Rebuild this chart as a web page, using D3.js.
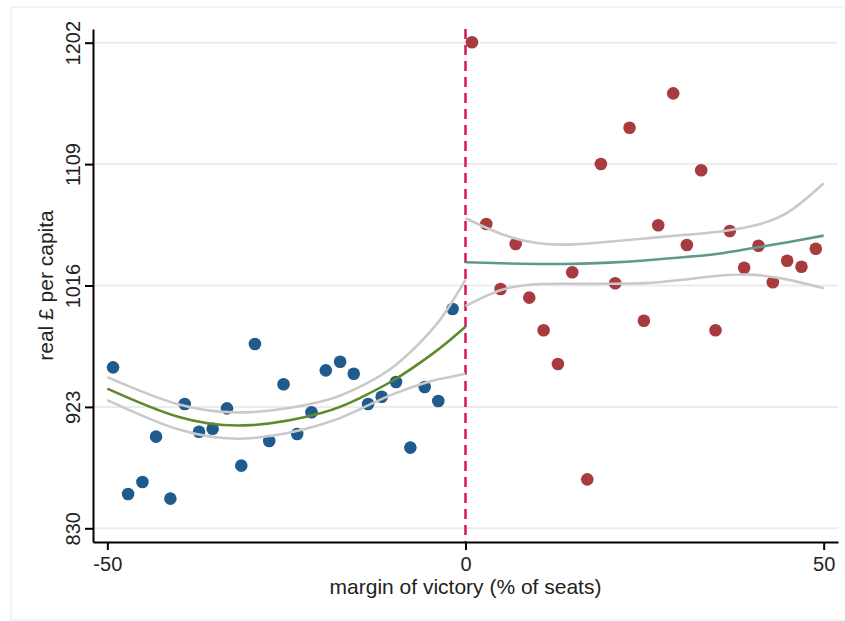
<!DOCTYPE html>
<html>
<head>
<meta charset="utf-8">
<script src="https://cdn.jsdelivr.net/npm/d3@7"></script>
<style>
  body { margin: 0; background: #fff; }
  svg { display: block; font-family: "Liberation Sans", Arial, Helvetica, sans-serif; }
  .grid line { stroke: #ececec; stroke-width: 2; }
  .axis path, .axis line { stroke: #000; stroke-width: 2; }
  .axis text { font-size: 20px; fill: #222; }
  .title { font-size: 21px; fill: #222; }
</style>
</head>
<body>
<script>
// binned means, left of the cutoff (lost) and right (won)
const blueX = [-49.2, -47.1, -45.1, -43.2, -41.2, -39.2, -37.2, -35.3, -33.3, -31.3, -29.4, -27.4, -25.4,
               -23.5, -21.5, -19.5, -17.5, -15.6, -13.6, -11.7, -9.7, -7.7, -5.7, -3.8, -1.8];
const blueY = [953.3, 856.3, 865.5, 900.2, 852.7, 925.2, 904, 906.3, 921.9, 878, 971.2, 896.9, 940.3,
               902.2, 918.9, 951, 957.6, 948.4, 925.2, 930.8, 942.1, 891.8, 938.2, 927.5, 998];
const redX = [0.9, 2.9, 4.9, 7.0, 8.9, 10.9, 12.9, 14.9, 17.0, 18.9, 20.9, 22.9, 24.9,
              26.9, 29.0, 30.9, 32.9, 34.9, 36.9, 38.9, 40.9, 42.9, 44.9, 46.9, 48.9];
const redY = [1202.3, 1063.1, 1013.3, 1047.8, 1006.7, 981.7, 955.9, 1026.1, 867.5, 1109.1, 1017.7, 1136.9, 989,
              1062.1, 1163.2, 1047, 1104.3, 981.7, 1057.8, 1029.6, 1046.5, 1018.5, 1035, 1030.4, 1044.1];

// fitted curves and confidence bands
const leftFitX  = [-50, -40, -30, -20, -15, -10, -5, -2.5, 0];
const leftFit   = [937, 915.2, 909, 918.5, 929.1, 943.6, 962.1, 972.7, 984.4];
const leftUpper = [945.8, 924.8, 919, 927.3, 937.7, 954, 980, 998, 1020.4];
const leftLower = [928.2, 905.6, 899, 909.7, 920.5, 933, 942.5, 945.5, 948.4];

const rightFitX  = [0, 5, 10, 15, 20, 25, 30, 35, 40, 45, 50];
const rightFit   = [1033.8, 1033, 1032.5, 1032.6, 1033.5, 1035.2, 1037.5, 1040.1, 1044.5, 1049.2, 1054.2];
const rightUpper = [1067.5, 1055.5, 1048.5, 1047.5, 1049.5, 1052, 1054.5, 1057, 1061.5, 1072, 1094.3];
const rightLower = [1000.3, 1012.6, 1017, 1017.3, 1017.3, 1017.8, 1020.2, 1023.3, 1024.3, 1020.5, 1013.9];

const xTicks = [-50, 0, 50];
const yTicks = [830, 923, 1016, 1109, 1202];

const width = 845;
const height = 621;
const margin = {top: 29, right: 7, bottom: 79, left: 93};

const svg = d3.select("body").append("svg")
    .attr("width", width)
    .attr("height", height);

// faint outer frame
svg.append("rect")
    .attr("x", 11).attr("y", 7)
    .attr("width", 840).attr("height", 613)
    .attr("fill", "none")
    .attr("stroke", "#efefef")
    .attr("stroke-width", 1.5);

const x = d3.scaleLinear().domain([-52, 52]).range([margin.left, width - margin.right]);
const y = d3.scaleLinear().domain([819.5, 1212.5]).range([height - margin.bottom, margin.top]);

// horizontal grid
svg.append("g").attr("class", "grid")
    .selectAll("line")
    .data(yTicks)
    .join("line")
    .attr("x1", x.range()[0])
    .attr("x2", x.range()[1])
    .attr("y1", d => y(d))
    .attr("y2", d => y(d));

// cutoff
svg.append("line")
    .attr("x1", x(0)).attr("x2", x(0))
    .attr("y1", y.range()[1]).attr("y2", y.range()[0])
    .attr("stroke", "#d3175a")
    .attr("stroke-width", 2.5)
    .attr("stroke-dasharray", "10,6");

// points
function dots(xs, ys, colour) {
    svg.append("g")
        .selectAll("circle")
        .data(xs.map((v, i) => [v, ys[i]]))
        .join("circle")
        .attr("cx", d => x(d[0]))
        .attr("cy", d => y(d[1]))
        .attr("r", 6.3)
        .attr("fill", colour);
}
dots(blueX, blueY, "#1f5b8d");
dots(redX, redY, "#a83b3f");

// fit lines
const line = d3.line().x(d => x(d[0])).y(d => y(d[1])).curve(d3.curveNatural);
function curve(xs, ys, colour) {
    svg.append("path")
        .datum(xs.map((v, i) => [v, ys[i]]))
        .attr("d", line)
        .attr("fill", "none")
        .attr("stroke", colour)
        .attr("stroke-width", 2.6);
}
curve(leftFitX, leftUpper, "#c9c9c9");
curve(leftFitX, leftLower, "#c9c9c9");
curve(leftFitX, leftFit, "#5d8a2e");
curve(rightFitX, rightUpper, "#c9c9c9");
curve(rightFitX, rightLower, "#c9c9c9");
curve(rightFitX, rightFit, "#5f9a86");

// axes
const xAxis = svg.append("g").attr("class", "axis")
    .attr("transform", `translate(0,${height - margin.bottom})`)
    .call(d3.axisBottom(x).tickValues(xTicks).tickFormat(d => String(d)).tickSize(8).tickSizeOuter(0));
xAxis.selectAll("text").attr("y", 29).attr("dy", 0);

const yAxis = svg.append("g").attr("class", "axis")
    .attr("transform", `translate(${margin.left},0)`)
    .call(d3.axisLeft(y).tickValues(yTicks).tickFormat(d => String(d)).tickSize(8).tickSizeOuter(0));
yAxis.selectAll("text")
    .attr("x", null).attr("dy", 0)
    .attr("text-anchor", "middle")
    .attr("transform", "translate(-13,0) rotate(-90)");

// axis titles
svg.append("text").attr("class", "title")
    .attr("x", (x.range()[0] + x.range()[1]) / 2)
    .attr("y", 594)
    .attr("text-anchor", "middle")
    .text("margin of victory (% of seats)");

svg.append("text").attr("class", "title")
    .attr("text-anchor", "middle")
    .attr("transform", `translate(53,${(y.range()[0] + y.range()[1]) / 2}) rotate(-90)`)
    .text("real £ per capita");
</script>
</body>
</html>
